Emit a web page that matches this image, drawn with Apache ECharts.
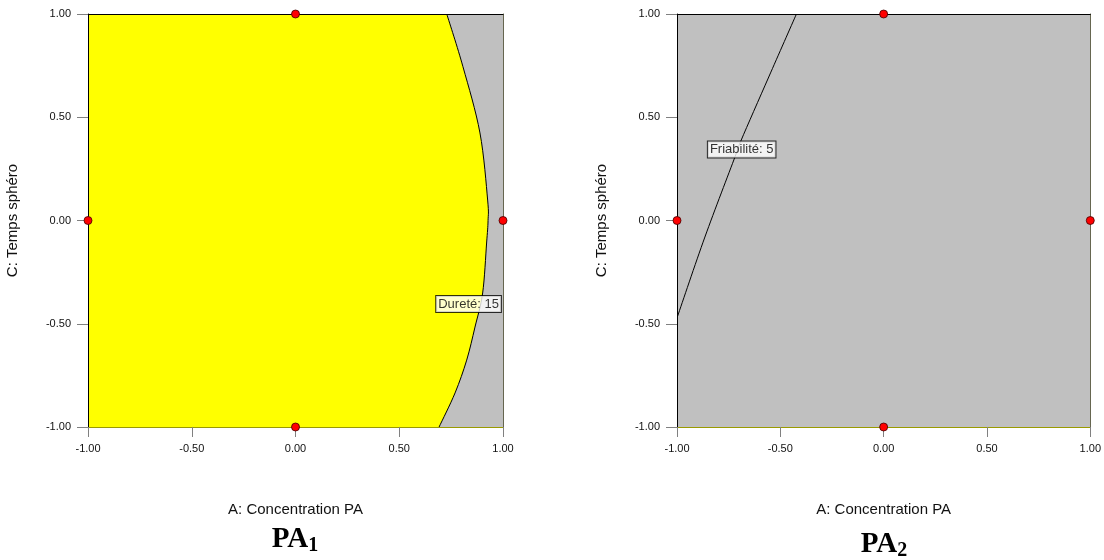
<!DOCTYPE html>
<html>
<head>
<meta charset="utf-8">
<script src="https://cdn.jsdelivr.net/npm/echarts@6/dist/echarts.min.js"></script>
<style>html,body{margin:0;padding:0;background:#fff}#c{width:1104px;height:560px}</style>
</head>
<body>
<div id="c"></div>
<script>
// Design points (A, C)
const designA = [0, -1, 1, 0];
const designC = [1, 0, 0, -1];
// Dureté = 15 contour (PA1)
const dureteA = [0.729, 0.807, 0.889, 0.926, 0.928, 0.921, 0.902, 0.865, 0.825, 0.769, 0.692];
const dureteC = [1, 0.745, 0.424, 0.099, 0, -0.109, -0.351, -0.516, -0.676, -0.835, -1];
// Friabilité = 5 contour (PA2)
const friabA = [-0.422, -0.556, -0.689, -0.719, -0.865, -0.998];
const friabC = [1, 0.695, 0.390, 0.309, -0.080, -0.466];
// Contour labels
const labelTexts = ['Dureté: 15', 'Friabilité: 5'];
const labelA = [0.834, -0.687];
const labelC = [-0.404, 0.344];
const panelTitles = ['1', '2'];
const xName = 'A: Concentration PA';
const yName = 'C: Temps sphéro';

const zip = (a, b) => a.map((v, i) => [v, b[i]]);
const dureteCurve = zip(dureteA, dureteC);
const friabCurve = zip(friabA, friabC);
const designPts = zip(designA, designC);

const FONT = '"Liberation Sans", Arial, sans-serif';
const SERIF = '"Liberation Serif", "Times New Roman", serif';
const grids = [
  {left: 88, top: 14, width: 415, height: 413, show: true, backgroundColor: '#c0c0c0', borderWidth: 0},
  {left: 677, top: 14, width: 415, height: 413, show: true, backgroundColor: '#c0c0c0', borderWidth: 0}
];
function mainX(gi) {
  return {
    type: 'value', gridIndex: gi, min: -1, max: 1, interval: 0.5, z: 10,
    name: xName, nameLocation: 'middle', nameGap: 75,
    nameTextStyle: {fontFamily: FONT, fontSize: 15, color: '#111'},
    axisLine: {show: true, onZero: false, lineStyle: {color: '#9a9a00', width: 1}},
    axisTick: {show: true, length: 10, lineStyle: {color: '#808080'}},
    axisLabel: {formatter: v => v.toFixed(2), fontFamily: FONT, fontSize: 11, color: '#111', margin: 16},
    splitLine: {show: false}
  };
}
function mainY(gi) {
  return {
    type: 'value', gridIndex: gi, min: -1, max: 1, interval: 0.5, z: 10,
    name: yName, nameLocation: 'middle', nameGap: 68,
    nameTextStyle: {fontFamily: FONT, fontSize: 15, color: '#111'},
    axisLine: {show: true, onZero: false, lineStyle: {color: '#000', width: 1}},
    axisTick: {show: true, length: 11, lineStyle: {color: '#808080'}},
    axisLabel: {formatter: v => v.toFixed(2), fontFamily: FONT, fontSize: 11, color: '#111', margin: 17},
    splitLine: {show: false}
  };
}
function borderAxis(gi, pos, color) {
  return {
    type: 'value', gridIndex: gi, min: -1, max: 1, position: pos, z: 9,
    axisLine: {show: true, onZero: false, lineStyle: {color: color, width: 1}},
    axisTick: {show: false}, axisLabel: {show: false}, splitLine: {show: false}
  };
}

// Catmull-Rom spline through pixel points -> SVG cubic segments
function splineSegs(p) {
  let d = '';
  const n = p.length;
  for (let i = 0; i < n - 1; i++) {
    const p0 = p[Math.max(i - 1, 0)], p1 = p[i], p2 = p[i + 1], p3 = p[Math.min(i + 2, n - 1)];
    const c1 = [p1[0] + (p2[0] - p0[0]) / 6, p1[1] + (p2[1] - p0[1]) / 6];
    const c2 = [p2[0] - (p3[0] - p1[0]) / 6, p2[1] - (p3[1] - p1[1]) / 6];
    d += ' C ' + c1[0] + ' ' + c1[1] + ' ' + c2[0] + ' ' + c2[1] + ' ' + p2[0] + ' ' + p2[1];
  }
  return d;
}
function contourSeries(gi, curve, fillColor) {
  return {
    type: 'custom', xAxisIndex: gi, yAxisIndex: gi, z: 3, silent: true,
    data: [0], clip: true,
    renderItem: function (params, api) {
      const px = curve.map(p => api.coord(p));
      const children = [];
      if (fillColor) {
        const tl = api.coord([-1, 1]), bl = api.coord([-1, -1]);
        const d = 'M ' + tl[0] + ' ' + tl[1] + ' L ' + px[0][0] + ' ' + px[0][1] + splineSegs(px) +
          ' L ' + bl[0] + ' ' + bl[1] + ' Z';
        children.push({type: 'path', shape: {pathData: d}, style: {fill: fillColor, stroke: null}});
      }
      const s = 'M ' + px[0][0] + ' ' + px[0][1] + splineSegs(px);
      children.push({type: 'path', shape: {pathData: s}, style: {fill: null, stroke: '#000', lineWidth: 1}});
      return {type: 'group', children: children};
    }
  };
}
function dotsSeries(gi) {
  return {
    type: 'scatter', xAxisIndex: gi, yAxisIndex: gi, z: 12, data: designPts, symbolSize: 8,
    itemStyle: {color: '#ff0000', borderColor: '#400000', borderWidth: 0.8, opacity: 1}
  };
}
function labelSeries(gi, i) {
  return {
    type: 'scatter', xAxisIndex: gi, yAxisIndex: gi, z: 11, symbolSize: 0,
    data: [[labelA[i], labelC[i]]],
    label: {
      show: true, position: 'inside', formatter: labelTexts[i],
      fontFamily: FONT, fontSize: 13, color: '#000', lineHeight: 14,
      backgroundColor: '#fff', borderColor: '#000', borderWidth: 1, padding: [1, 2, 1, 2]
    }
  };
}
function titleText(x, y, sub) {
  return {type: 'text', x: x, y: y, style: {text: '{m|PA}{s|' + sub + '}', align: 'center',
    rich: {m: {fontFamily: SERIF, fontWeight: 'bold', fontSize: 29, fill: '#000'},
           s: {fontFamily: SERIF, fontWeight: 'bold', fontSize: 20, fill: '#000', padding: [12, 0, 0, 0]}}}};
}

const option = {
  animation: false,
  backgroundColor: '#fff',
  grid: grids,
  xAxis: [mainX(0), mainX(1), borderAxis(0, 'top', '#000'), borderAxis(1, 'top', '#000')],
  yAxis: [mainY(0), mainY(1), borderAxis(0, 'right', '#666650'), borderAxis(1, 'right', '#666650')],
  series: [
    contourSeries(0, dureteCurve, '#ffff00'),
    contourSeries(1, friabCurve, null),
    labelSeries(0, 0),
    labelSeries(1, 1),
    dotsSeries(0),
    dotsSeries(1)
  ],
  graphic: [titleText(295, 524, panelTitles[0]), titleText(884, 529, panelTitles[1])]
};
const chart = echarts.init(document.getElementById('c'), null, {renderer: 'canvas'});
chart.setOption(option);
</script>
</body>
</html>
